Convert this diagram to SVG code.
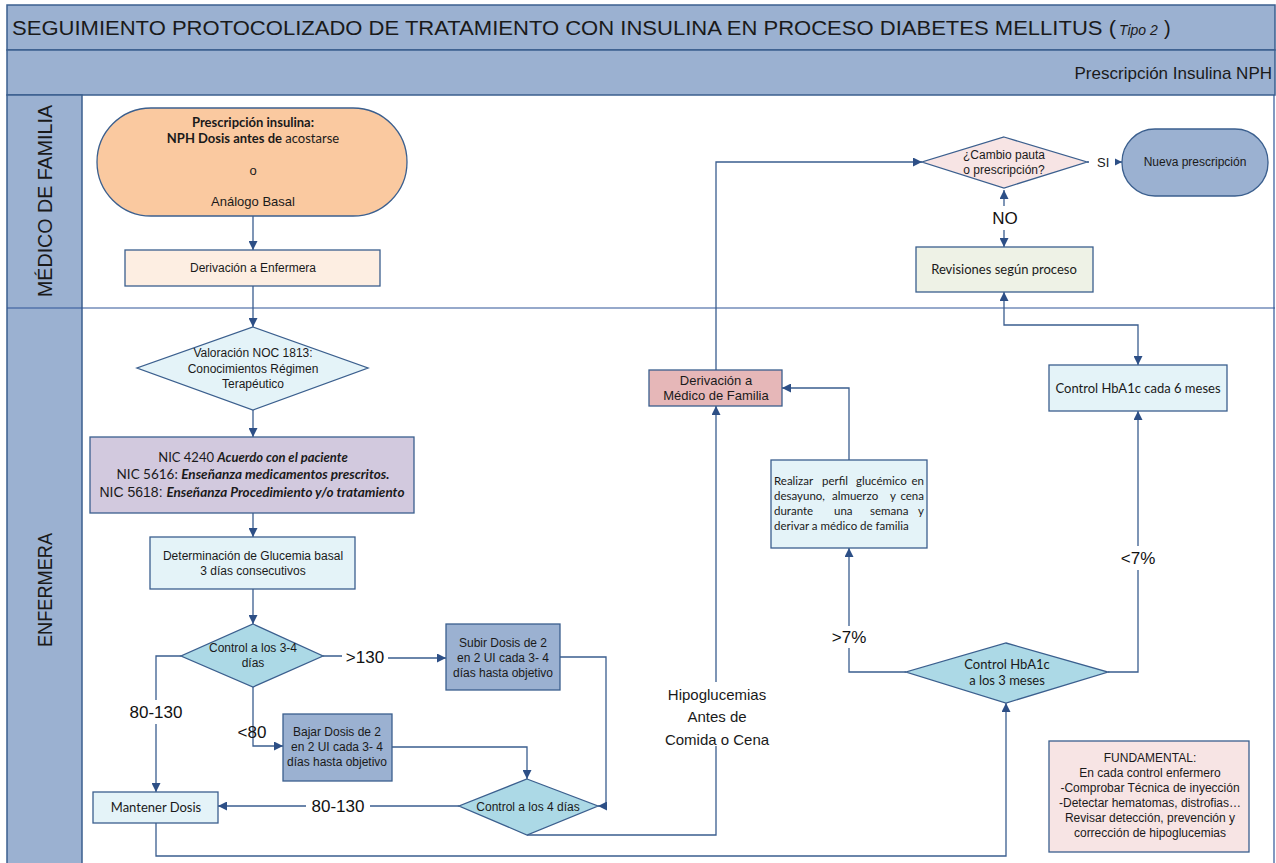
<svg xmlns="http://www.w3.org/2000/svg" width="1276" height="863" viewBox="0 0 1276 863">
  <defs>
    <marker id="arr" viewBox="0 0 10 10" refX="10" refY="5" markerWidth="9" markerHeight="9" markerUnits="userSpaceOnUse" orient="auto-start-reverse">
      <path d="M0,0 L10,5 L0,10 z" fill="#2d4f86"/>
    </marker>
    <style>
      .band { fill: #9bb1d1; stroke: #3b5f8e; stroke-width: 1.5; }
      .lane { fill: none; stroke: #2f5597; stroke-width: 1.2; }
      .node { stroke: #3b5f8e; stroke-width: 1.3; }
      .ar { font-family: "Liberation Sans", Arial, sans-serif; fill: #1a1a1a; }
      .cb { font-family: Lato, "Liberation Sans", sans-serif; fill: #1a1a1a; }
      .c { text-anchor: middle; }
      .s12 { font-size: 12px; }
      .s13 { font-size: 13px; }
      .lbl { font-family: "Liberation Sans", Arial, sans-serif; font-size: 17px; fill: #111; text-anchor: middle; }
      .conn path { fill: none; stroke: #3a5d8f; stroke-width: 1.3; }
      .mask { fill: #ffffff; }
    </style>
  </defs>

  <!-- page background -->
  <rect x="0" y="0" width="1276" height="863" fill="#ffffff"/>

  <!-- header bands -->
  <g id="header">
    <rect class="band" x="7" y="5" width="1268" height="45"/>
    <text class="ar" x="12" y="35" font-size="20" textLength="1104" lengthAdjust="spacingAndGlyphs">SEGUIMIENTO PROTOCOLIZADO DE TRATAMIENTO CON INSULINA EN PROCESO DIABETES MELLITUS (</text>
    <text class="ar" x="1119" y="35" font-size="14" font-style="italic">Tipo 2</text>
    <text class="ar" x="1164" y="35" font-size="20">)</text>
    <rect class="band" x="7" y="50" width="1268" height="45"/>
    <text class="ar" x="1272" y="79" font-size="17" text-anchor="end">Prescripción Insulina NPH</text>
  </g>

  <!-- swimlanes -->
  <g id="lanes">
    <rect class="band" x="7" y="95" width="75" height="770"/>
    <line class="lane" x1="7" y1="308" x2="1275" y2="308"/>
    <line class="lane" x1="1274" y1="95" x2="1274" y2="863"/>
    <text class="ar" font-size="20" text-anchor="middle" textLength="192" lengthAdjust="spacingAndGlyphs" transform="translate(52,201) rotate(-90)">MÉDICO  DE FAMILIA</text>
    <text class="ar" font-size="20" text-anchor="middle" textLength="114" lengthAdjust="spacingAndGlyphs" transform="translate(52,590) rotate(-90)">ENFERMERA</text>
  </g>

  <!-- connectors -->
  <g id="connectors" class="conn">
    <path d="M253,216 V250" marker-end="url(#arr)"/>
    <path d="M253,286 V327" marker-end="url(#arr)"/>
    <path d="M253,410 V437" marker-end="url(#arr)"/>
    <path d="M253,513 V537" marker-end="url(#arr)"/>
    <path d="M253,589 V624" marker-end="url(#arr)"/>
    <!-- >130 branch -->
    <path d="M323,656 H355 V658 H446" marker-end="url(#arr)"/>
    <path d="M560,657 H606 V806 H598" marker-end="url(#arr)"/>
    <!-- 80-130 branch -->
    <path d="M181,656 H156 V792" marker-end="url(#arr)"/>
    <!-- <80 branch -->
    <path d="M253,687 V746 H283" marker-end="url(#arr)"/>
    <path d="M392,747 H527 V779" marker-end="url(#arr)"/>
    <path d="M459,806 H218" marker-end="url(#arr)"/>
    <!-- Mantener Dosis to HbA1c control -->
    <path d="M156,823 V856 H1006 V703" marker-end="url(#arr)"/>
    <!-- hypoglycaemia path -->
    <path d="M527,835 H716 V406" marker-end="url(#arr)"/>
    <path d="M716,370 V162 H922" marker-end="url(#arr)"/>
    <path d="M1087,162 H1122" marker-end="url(#arr)"/>
    <path d="M1004,190 V247" marker-start="url(#arr)" marker-end="url(#arr)"/>
    <path d="M1004,292 V325 H1138 V365" marker-start="url(#arr)" marker-end="url(#arr)"/>
    <!-- HbA1c outcomes -->
    <path d="M1108,672 H1138 V411" marker-end="url(#arr)"/>
    <path d="M906,672 H849 V548" marker-end="url(#arr)"/>
    <path d="M849,460 V388 H782" marker-end="url(#arr)"/>
  </g>

  <!-- connector labels -->
  <g id="labels">
    <rect class="mask" x="342" y="645" width="46" height="22"/>
    <text class="lbl" x="365" y="663">&gt;130</text>
    <rect class="mask" x="124" y="700" width="64" height="24"/>
    <text class="lbl" x="156" y="718">80-130</text>
    <text class="lbl" x="252" y="738">&lt;80</text>
    <rect class="mask" x="306" y="795" width="64" height="22"/>
    <text class="lbl" x="338" y="812">80-130</text>
    <rect class="mask" x="660" y="682" width="114" height="64"/>
    <text class="ar c" x="717" y="700" font-size="15">Hipoglucemias</text>
    <text class="ar c" x="717" y="722" font-size="15">Antes de</text>
    <text class="ar c" x="717" y="745" font-size="15">Comida o Cena</text>
    <rect class="mask" x="826" y="626" width="46" height="22"/>
    <text class="lbl" x="849" y="643">&gt;7%</text>
    <rect class="mask" x="1115" y="546" width="46" height="24"/>
    <text class="lbl" x="1138" y="564">&lt;7%</text>
    <rect class="mask" x="1089" y="152" width="26" height="18"/>
    <text class="ar" x="1097" y="167" font-size="13">SI</text>
    <rect class="mask" x="985" y="206" width="40" height="24"/>
    <text class="lbl" x="1005" y="224">NO</text>
  </g>

  <!-- nodes -->
  <g id="n-prescripcion">
    <rect class="node" x="97" y="108" width="310" height="108" rx="54" fill="#fac9a0"/>
    <text class="cb c s13" x="253" y="127" font-weight="bold">Prescripción insulina:</text>
    <text class="cb c s13" x="253" y="143"><tspan font-weight="bold">NPH Dosis antes de</tspan> acostarse</text>
    <text class="ar c s13" x="253" y="175">o</text>
    <text class="ar c s13" x="253" y="206">Análogo Basal</text>
  </g>

  <g id="n-derivacion-enfermera">
    <rect class="node" x="125" y="250" width="255" height="36" fill="#fdeee2"/>
    <text class="ar c s12" x="253" y="272">Derivación a Enfermera</text>
  </g>

  <g id="n-valoracion">
    <polygon class="node" points="253,327 368,368 253,410 137,368" fill="#e4f3f8"/>
    <text class="ar c s12" x="253" y="357">Valoración NOC 1813:</text>
    <text class="ar c s12" x="253" y="373">Conocimientos Régimen</text>
    <text class="ar c s12" x="253" y="388">Terapéutico</text>
  </g>

  <g id="n-nic">
    <rect class="node" x="90" y="437" width="324" height="76" fill="#d2c9de"/>
    <text class="c s13" x="253" y="462"><tspan class="cb">NIC 4240 </tspan><tspan class="cb" font-weight="bold" font-style="italic">Acuerdo con el paciente</tspan></text>
    <text class="c" x="253" y="479" font-size="13.5"><tspan class="cb">NIC 5616: </tspan><tspan class="cb" font-weight="bold" font-style="italic">Enseñanza medicamentos prescritos.</tspan></text>
    <text class="c" x="252" y="497"><tspan class="ar" font-size="14">NIC 5618: </tspan><tspan class="cb" font-size="13.5" font-weight="bold" font-style="italic">Enseñanza Procedimiento y/o tratamiento</tspan></text>
  </g>

  <g id="n-glucemia">
    <rect class="node" x="150" y="537" width="205" height="52" fill="#e4f3f8"/>
    <text class="ar c s12" x="253" y="560">Determinación de Glucemia basal</text>
    <text class="ar c s12" x="253" y="575">3 días consecutivos</text>
  </g>

  <g id="n-control-3-4">
    <polygon class="node" points="253,624 323,656 253,687 181,656" fill="#acd9e6"/>
    <text class="ar c s12" x="253" y="652">Control a los 3-4</text>
    <text class="ar c s12" x="253" y="667">días</text>
  </g>

  <g id="n-subir">
    <rect class="node" x="446" y="624" width="114" height="66" fill="#9bb1d1"/>
    <text class="ar c s12" x="503" y="647">Subir Dosis de 2</text>
    <text class="ar c s12" x="503" y="662">en 2 UI cada 3- 4</text>
    <text class="ar c s12" x="503" y="677">días hasta objetivo</text>
  </g>

  <g id="n-bajar">
    <rect class="node" x="283" y="714" width="109" height="67" fill="#9bb1d1"/>
    <text class="ar c s12" x="337" y="736">Bajar Dosis de 2</text>
    <text class="ar c s12" x="337" y="751">en 2 UI cada 3- 4</text>
    <text class="ar c s12" x="337" y="766">días hasta objetivo</text>
  </g>

  <g id="n-control-4">
    <polygon class="node" points="527,779 598,806 527,835 459,806" fill="#acd9e6"/>
    <text class="ar c s12" x="528" y="811">Control a los 4 días</text>
  </g>

  <g id="n-mantener">
    <rect class="node" x="93" y="792" width="125" height="31" fill="#e4f3f8"/>
    <text class="cb c s13" x="156" y="812">Mantener Dosis</text>
  </g>

  <g id="n-derivacion-medico">
    <rect class="node" x="649" y="370" width="133" height="36" fill="#e6b7b8"/>
    <text class="ar c s13" x="716" y="385">Derivación a</text>
    <text class="ar c s13" x="716" y="400">Médico de Familia</text>
  </g>

  <g id="n-cambio">
    <polygon class="node" points="1004,137 1087,162 1004,188 922,162" fill="#f7e4e4"/>
    <text class="ar c s12" x="1004" y="159">¿Cambio pauta</text>
    <text class="ar c s12" x="1004" y="174">o prescripción?</text>
  </g>

  <g id="n-nueva">
    <rect class="node" x="1122" y="129" width="146" height="67" rx="33" fill="#9bb1d1"/>
    <text class="ar c s12" x="1195" y="166">Nueva prescripción</text>
  </g>

  <g id="n-revisiones">
    <rect class="node" x="916" y="247" width="177" height="45" fill="#eef2e6"/>
    <text class="cb c s13" x="1004" y="274">Revisiones según proceso</text>
  </g>

  <g id="n-control-6m">
    <rect class="node" x="1049" y="365" width="178" height="46" fill="#e4f3f8"/>
    <text class="cb c s13" x="1138" y="393">Control  HbA1c cada 6 meses</text>
  </g>

  <g id="n-perfil">
    <rect class="node" x="771" y="460" width="156" height="88" fill="#e4f3f8"/>
    <!-- justified paragraph: words placed individually -->
    <g class="cb" font-size="11.5">
      <text y="485"><tspan x="774">Realizar</tspan><tspan x="822">perfil</tspan><tspan x="856">glucémico</tspan><tspan x="924" text-anchor="end">en</tspan></text>
      <text y="500"><tspan x="774">desayuno,</tspan><tspan x="832">almuerzo</tspan><tspan x="890">y</tspan><tspan x="924" text-anchor="end">cena</tspan></text>
      <text y="515"><tspan x="774">durante</tspan><tspan x="834">una</tspan><tspan x="870">semana</tspan><tspan x="924" text-anchor="end">y</tspan></text>
      <text x="774" y="530">derivar a médico de familia</text>
    </g>
  </g>

  <g id="n-control-3m">
    <polygon class="node" points="1006,643 1108,672 1006,703 906,672" fill="#acd9e6"/>
    <text class="cb c s13" x="1007" y="669">Control HbA1c</text>
    <text class="cb c s13" x="1007" y="685">a los 3 meses</text>
  </g>

  <g id="n-fundamental">
    <rect class="node" x="1049" y="741" width="200" height="111" fill="#f7e4e4"/>
    <text class="ar c s12" x="1150" y="762">FUNDAMENTAL:</text>
    <text class="ar c s12" x="1150" y="777">En cada control enfermero</text>
    <text class="ar c s12" x="1150" y="792">-Comprobar Técnica de inyección</text>
    <text class="ar c s12" x="1150" y="807">-Detectar hematomas, distrofias…</text>
    <text class="ar c s12" x="1150" y="822">Revisar detección, prevención y</text>
    <text class="ar c s12" x="1150" y="837">corrección de hipoglucemias</text>
  </g>
</svg>
